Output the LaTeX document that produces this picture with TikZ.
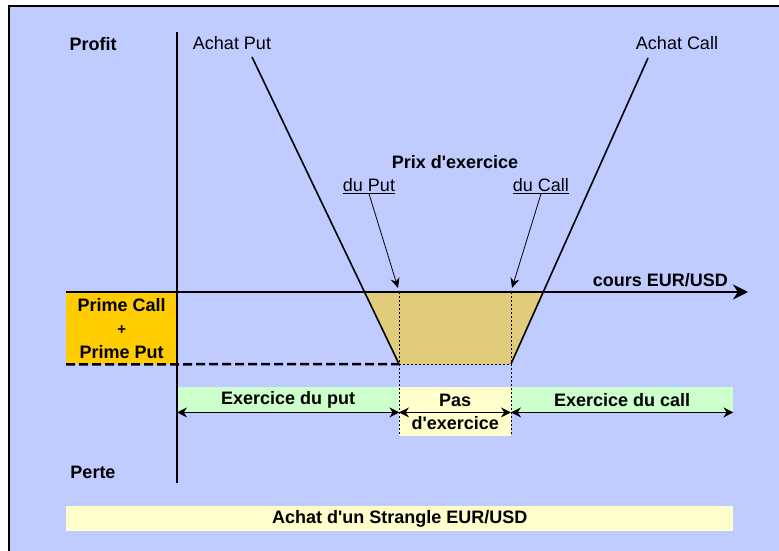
\documentclass[tikz,border=0pt]{standalone}
\usepackage{fontspec}
\setmainfont{Liberation Sans}
\usetikzlibrary{arrows.meta}

\definecolor{fond}{RGB}{192,204,255}
\definecolor{prime}{RGB}{255,204,0}
\definecolor{vert}{RGB}{204,255,204}
\definecolor{jaune}{RGB}{255,255,204}
\definecolor{zone}{RGB}{224,204,122}

\tikzset{
  lab/.style={font=\fontsize{18}{23.5}\selectfont\bfseries, inner sep=0pt},
  labn/.style={font=\fontsize{18}{23.5}\selectfont, inner sep=0pt},
  band/.style={lab, anchor=north west},
  fleche/.style={-{Stealth[length=10pt,width=9pt]}, line width=0.8pt},
  deuxfleches/.style={{Stealth[length=10pt,width=10pt]}-{Stealth[length=10pt,width=10pt]}, line width=1pt},
  pointille/.style={line width=0.8pt, dash pattern=on 2pt off 2pt}
}

\begin{document}
\begin{tikzpicture}[x=1pt,y=-1pt]
\useasboundingbox (0,0) rectangle (779,551);
\fill[fond] (9,6) rectangle (779,551);
\draw[line width=2pt] (9,551)--(9,6)--(779,6);

% points of the payoff
\coordinate (ytop) at (177,32);
\coordinate (ybot) at (177,483);
\coordinate (xl) at (66,292);
\coordinate (xr) at (748,292);
\coordinate (putA) at (252,57);
\coordinate (pz) at (365,292);
\coordinate (kput) at (399,364);
\coordinate (kcall) at (511,364);
\coordinate (cz) at (544,292);
\coordinate (callA) at (648,58);
\coordinate (tput) at (398,288);
\coordinate (tcall) at (512,288);
\coordinate (bput) at (399,436);
\coordinate (bcall) at (511,436);

% bands
\node[band, fill=vert, minimum width=222pt, minimum height=25pt] (putbar) at (177,387) {Exercice du put};
\node[band, fill=jaune, minimum width=112pt, minimum height=49pt, align=center] (pasbar) at (399,387) {Pas\\d\textquotesingle exercice};
\node[band, fill=vert, minimum width=222pt, minimum height=25pt] (callbar) at (511,387) {Exercice du call};
\node[band, fill=jaune, minimum width=667pt, minimum height=25pt] (titre) at (66,506) {Achat d\textquotesingle un Strangle EUR/USD};
\node[band, fill=prime, minimum width=111pt, minimum height=72pt, align=center] (prime) at (66,292) {Prime Call\\{\fontsize{15}{23.5}\selectfont +}\\Prime Put};

% zone between the strikes
\fill[zone] (pz)--(kput)--(kcall)--(cz)--cycle;
\draw[pointille] (pz)--(cz);
\draw[pointille] (kput)--(kcall);
\draw[pointille] (kput |- xl)--(bput);
\draw[pointille] (kcall |- xl)--(bcall);

\draw[line width=2.5pt, dash pattern=on 9pt off 4pt] (prime.south west)--(kput);

% axes
\draw[line width=2.5pt] (ytop)--(ybot);
\draw[line width=2.5pt, -{Stealth[length=15pt,width=15pt]}] (xl)--(xr);

% payoff
\draw[line width=1.6pt] (putA)--(kput);
\draw[line width=1.6pt] (kcall)--(callA);

\draw[deuxfleches] (putbar.south west)--(putbar.south east);
\draw[deuxfleches] (kput |- putbar.south)--(kcall |- putbar.south);
\draw[deuxfleches] (callbar.south west)--(callbar.south east);

% labels
\node[lab] (profit) at (93,44) {Profit};
\node[lab] (perte) at (93,472) {Perte};
\node[labn] (achatput) at (232,43) {Achat Put};
\node[labn] (achatcall) at (677,43) {Achat Call};
\node[lab] (prix) at (455,162) {Prix d\textquotesingle exercice};
\node[labn] (duput) at (369,186) {\underline{du Put}};
\node[labn] (ducall) at (541,186) {\underline{du Call}};
\node[lab, anchor=east] (cours) at (728,280) {cours EUR/USD};

\draw[fleche] (duput.south)--(tput);
\draw[fleche] (ducall.south)--(tcall);
\end{tikzpicture}
\end{document}
